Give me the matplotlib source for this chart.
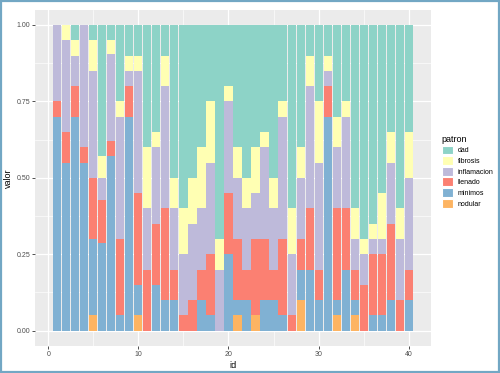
import numpy as np
import matplotlib
matplotlib.use("Agg")
import matplotlib.pyplot as plt
from matplotlib.patches import Patch, Rectangle
from matplotlib.ticker import MultipleLocator

plt.rcParams['font.family'] = ['Liberation Sans', 'DejaVu Sans']

ids = list(range(1, 41))
patron = ["dad", "fibrosis", "inflamacion", "llenado", "minimos", "nodular"]
colors = ["#8DD3C7", "#FFFFB3", "#BEBADA", "#FB8072", "#80B1D3", "#FDB462"]

dad = [0, 0, .05, 0, .05, 6/14, 1/21, .25, .10, .10,
       .40, .35, .10, .50, .60, .50, .40, .25, .70, .20,
       .40, .50, .40, .35, .50, .25, .60, .40, .10, .25,
       .10, .30, .25, .60, .70, .65, .55, .35, .60, .35]
fibrosis = [0, .05, .05, 0, .10, 1/14, 1/21, .05, .05, .05,
            .20, .05, .10, .10, .15, .15, .20, .20, .10, .05,
            .10, .10, .15, .05, .10, .05, .15, .10, .10, .20,
            .05, .10, .05, .10, .05, .05, .15, .10, .10, .15]
inflamacion = [.25, .30, .10, .40, .35, 1/14, 6/21, .40, .05, .40,
               .20, .25, .40, .20, .20, .25, .20, .30, .20, .30,
               .20, .20, .15, .30, .20, .40, .20, .20, .40, .35,
               .05, .20, .30, .10, .10, .05, .05, .20, .20, .30]
llenado = [.05, .10, .10, .05, .20, 2/14, 1/21, .25, .10, .30,
           .20, .20, .30, .10, .05, .10, .10, .20, 0, .20,
           .20, .10, .25, .20, .10, .25, .05, .10, .20, .10,
           .10, .30, .20, .10, .15, .20, .20, .25, .10, .10]
minimos = [.70, .55, .70, .55, .25, 4/14, 12/21, .05, .70, .10,
           0, .15, .10, .10, 0, 0, .10, .05, 0, .25,
           .05, .10, 0, .10, .10, .05, 0, .10, .20, .10,
           .70, .05, .20, .05, 0, .05, .05, .10, 0, .10]
nodular = [0, 0, 0, 0, .05, 0, 0, 0, 0, .05,
           0, 0, 0, 0, 0, 0, 0, 0, 0, 0,
           .05, 0, .05, 0, 0, 0, 0, .10, 0, 0,
           0, .05, 0, .05, 0, 0, 0, 0, 0, 0]

series = [dad, fibrosis, inflamacion, llenado, minimos, nodular]

W, H = 500, 373
fig = plt.figure(figsize=(W / 100, H / 100), dpi=100)
fig.patch.set_facecolor("white")
ax = fig.add_axes([35.3 / W, 1 - 346 / H, (430.7 - 35.3) / W, (346 - 9.7) / H])
ax.set_facecolor("#EBEBEB")

# stack: last level at bottom
bottom = np.zeros(len(ids))
for name, vals, col in reversed(list(zip(patron, series, colors))):
    v = np.array(vals, dtype=float)
    ax.bar(ids, v, bottom=bottom, width=0.9, color=col, linewidth=0, zorder=3)
    bottom += v

ax.set_xlim(-1.445, 42.445)
ax.set_ylim(-0.05, 1.05)
ax.xaxis.set_major_locator(MultipleLocator(10))
ax.xaxis.set_minor_locator(MultipleLocator(5))
ax.yaxis.set_major_locator(MultipleLocator(0.25))
ax.yaxis.set_minor_locator(MultipleLocator(0.125))
ax.set_yticks([0, 0.25, 0.5, 0.75, 1.0])
ax.set_yticklabels(["0.00", "0.25", "0.50", "0.75", "1.00"])
ax.grid(which="major", color="white", linewidth=0.9, zorder=0)
ax.grid(which="minor", color="white", linewidth=0.45, zorder=0)
ax.set_axisbelow(True)
for s in ax.spines.values():
    s.set_visible(False)
ax.tick_params(which="major", length=2, width=0.6, color="#333333",
               labelsize=5, labelcolor="#4D4D4D", pad=1.5)
ax.tick_params(which="minor", length=0)

ax.set_xlabel("id", fontsize=6.5, labelpad=2, color="black")
ax.set_ylabel("valor", fontsize=6.5, labelpad=3, color="black")

handles = [Patch(facecolor=c, edgecolor="white", linewidth=0.8) for c in colors]
leg = fig.legend(handles, patron, loc="upper left",
                 bbox_to_anchor=(439 / W, 1 - 132 / H),
                 title="patron", fontsize=5, title_fontsize=6.5,
                 frameon=False, handlelength=1.6, handleheight=1.6,
                 labelspacing=0.25, handletextpad=0.7, borderaxespad=0,
                 alignment="left")
for t in leg.get_texts():
    t.set_color("black")

fig.add_artist(Rectangle((0.002, 0.003), 0.996, 0.994, transform=fig.transFigure,
                         fill=False, edgecolor="#72A7C4", linewidth=1.6))

fig.savefig("out.png", dpi=100)
